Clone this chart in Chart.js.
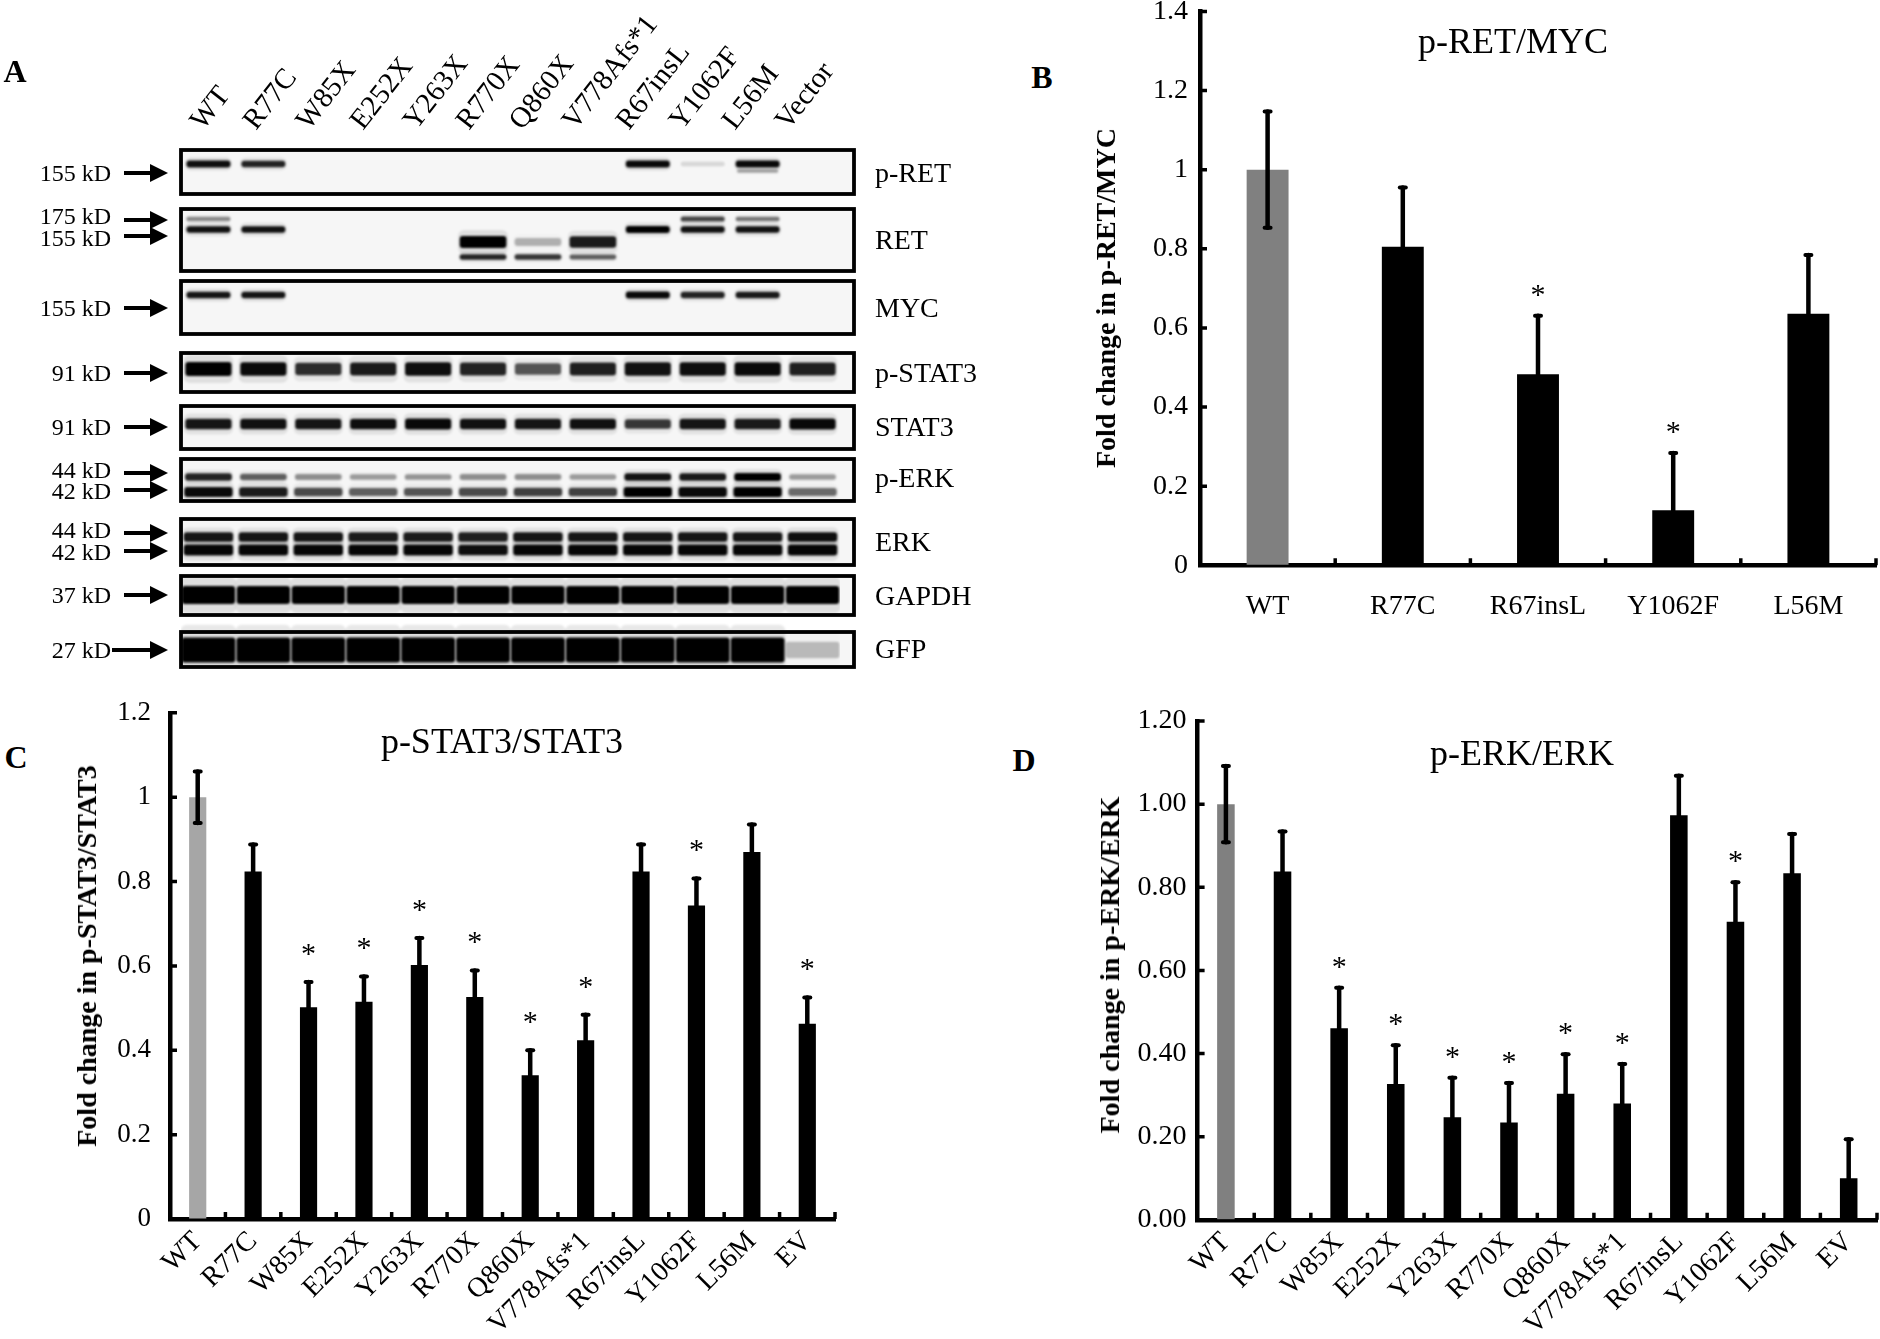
<!DOCTYPE html>
<html><head><meta charset="utf-8">
<script src="https://cdn.jsdelivr.net/npm/chart.js@4.4.1/dist/chart.umd.min.js"></script>
<style>
html,body{margin:0;padding:0;background:#fff;}
#page{position:relative;width:1880px;height:1339px;overflow:hidden;font-family:'Liberation Serif','Times New Roman',serif;color:#000;background:#fff;}
canvas{position:absolute;}
.t{position:absolute;white-space:nowrap;line-height:1;}
</style></head>
<body><div id="page">
<canvas id="blot"></canvas>
<canvas id="cB"></canvas>
<canvas id="cC"></canvas>
<canvas id="cD"></canvas>
</div>
<script>
// ---------- DATA ----------
const blotLanes = ['WT','R77C','W85X','E252X','Y263X','R770X','Q860X','V778Afs*1','R67insL','Y1062F','L56M','Vector'];
// band intensities per lane (0 = no band, 1 = saturated)
const pRET    = [0.92,0.80,0,0,0,0,0,0,0.95,0.06,0.95,0];
const pRETlow = [0,0,0,0,0,0,0,0,0,0,0.22,0];
const RET175  = [0.32,0,0,0,0,0,0,0,0,0.62,0.40,0];
const RET155  = [0.90,0.90,0,0,0,0,0,0,1.00,0.90,0.90,0];
const RETtrunc= [0,0,0,0,0,1.00,0.18,0.85,0,0,0,0];
const RETlow  = [0,0,0,0,0,0.80,0.70,0.50,0,0,0,0];
const MYC     = [0.88,0.88,0,0,0,0,0,0,0.95,0.80,0.85,0];
const pSTAT3  = [1.00,0.95,0.75,0.85,0.92,0.80,0.55,0.82,0.90,0.92,0.95,0.82];
const STAT3   = [0.88,0.90,0.88,0.92,0.95,0.90,0.88,0.90,0.70,0.88,0.85,0.95];
const pERK44  = [0.80,0.50,0.30,0.25,0.28,0.30,0.30,0.25,0.90,0.85,1.00,0.25];
const pERK42  = [0.95,0.85,0.60,0.50,0.55,0.60,0.65,0.65,1.00,0.95,1.00,0.45];
const ERK44   = [0.88,0.88,0.88,0.85,0.85,0.82,0.88,0.88,0.88,0.88,0.88,0.92];
const ERK42   = [0.97,0.97,0.97,0.97,0.97,0.92,0.97,0.97,0.97,0.97,0.97,0.97];
const GAPDH   = [1,1,1,1,1,1,1,1,1,1,1,1];
const GFP     = [1,1,1,1,1,1,1,1,1,1,1,0.15];

const catB  = ['WT','R77C','R67insL','Y1062F','L56M'];
const valB  = [1.00,0.805,0.483,0.139,0.636];
const errB  = [0.147,0.150,0.148,0.145,0.148];
const sigB  = [0,0,1,1,0];
const tickB = ['0','0.2','0.4','0.6','0.8','1','1.2','1.4'];

const catCD = ['WT','R77C','W85X','E252X','Y263X','R770X','Q860X','V778Afs*1','R67insL','Y1062F','L56M','EV'];
const valC  = [1.00,0.824,0.502,0.515,0.602,0.526,0.341,0.424,0.824,0.743,0.870,0.463];
const errC  = [0.061,0.064,0.060,0.060,0.064,0.063,0.059,0.060,0.064,0.064,0.065,0.062];
const sigC  = [0,0,1,1,1,1,1,1,0,1,0,1];
const tickC = ['0','0.2','0.4','0.6','0.8','1','1.2'];

const valD  = [1.00,0.838,0.461,0.327,0.247,0.234,0.303,0.280,0.973,0.717,0.834,0.100];
const errD  = [0.092,0.096,0.097,0.093,0.095,0.095,0.095,0.095,0.095,0.095,0.094,0.094];
const sigD  = [0,0,1,1,1,1,1,1,0,1,0,0];
const tickD = ['0.00','0.20','0.40','0.60','0.80','1.00','1.20'];

// ---------- LAYOUT / STYLE ----------
const F = "'Liberation Serif','Times New Roman',serif";
const page = document.getElementById('page');
function txt(s, x, y, size, o = {}) {
  const d = document.createElement('div');
  d.className = 't';
  d.textContent = s;
  d.style.fontSize = size + 'px';
  if (o.bold) d.style.fontWeight = 'bold';
  d.style.left = x + 'px';
  d.style.top = y + 'px';
  const a = o.anchor || 'center';
  let tr = a === 'center' ? 'translate(-50%,-50%)' : a === 'right' ? 'translate(-100%,-50%)' : 'translate(0,-50%)';
  if (o.vertical) tr = 'translate(-50%,-50%) rotate(-90deg)';
  d.style.transform = tr;
  page.appendChild(d);
  return d;
}

// ---------- PANEL A : blot ----------
const bandRows = [
  {v:pRET,    y:164,   t:7,  bp:0.80},
  {v:pRETlow, y:171,   t:5,  bp:0.75},
  {v:RET175,  y:219,   t:6,  bp:0.80},
  {v:RET155,  y:229.5, t:7,  bp:0.80},
  {v:RETtrunc,y:242,   t:12, bp:0.85},
  {v:RETlow,  y:257,   t:6,  bp:0.85},
  {v:MYC,     y:295,   t:7,  bp:0.80},
  {v:pSTAT3,  y:369,   t:14, bp:0.84},
  {v:STAT3,   y:424,   t:11, bp:0.84},
  {v:pERK44,  y:477,   t:8,  bp:0.85},
  {v:pERK42,  y:492,   t:10, bp:0.88},
  {v:ERK44,   y:537,   t:10, bp:0.90},
  {v:ERK42,   y:550,   t:11, bp:0.90},
  {v:GAPDH,   y:595,   t:18, bp:0.97},
  {v:GFP,     y:650,   t:25, bp:0.98}
];
const boxes = [[150,194],[209,271],[281,334],[353,392],[406,449],[459,501],[519,565],[576,615],[632,667]];
const arrows = [[173,124],[220,124],[236,124],[308,124],[373,124],[427,124],[473,124],[490,124],[533,124],[551,124],[595,124],[650,112]];

const blotPlugin = {
  id: 'blotdeco',
  beforeDatasetsDraw(chart) {
    const {ctx, chartArea: a, scales: {y}} = chart;
    ctx.save();
    ctx.fillStyle = '#f6f6f6';
    boxes.forEach(b => {
      const t = y.getPixelForValue(b[0]), bt = y.getPixelForValue(b[1]);
      ctx.fillRect(a.left, t, a.right + 14 - a.left, bt - t);
    });
    ctx.restore();
    ctx.save();
    ctx.filter = 'blur(1.3px)';
  },
  afterDatasetsDraw(chart) {
    const ctx = chart.ctx;
    ctx.restore();
    const {chartArea: a, scales: {y}} = chart;
    ctx.save();
    ctx.strokeStyle = '#000';
    ctx.lineWidth = 3.8;
    boxes.forEach(b => {
      const t = y.getPixelForValue(b[0]), bt = y.getPixelForValue(b[1]);
      ctx.strokeRect(a.left, t, a.right + 14 - a.left, bt - t);
    });
    ctx.fillStyle = '#000';
    arrows.forEach(([ay, x0]) => {
      const py = y.getPixelForValue(ay);
      const x1 = 168;
      ctx.lineWidth = 4;
      ctx.beginPath(); ctx.moveTo(x0, py); ctx.lineTo(x1 - 12, py); ctx.stroke();
      ctx.beginPath(); ctx.moveTo(x1, py); ctx.lineTo(x1 - 18, py - 9); ctx.lineTo(x1 - 18, py + 9); ctx.closePath(); ctx.fill();
    });
    ctx.restore();
  }
};
function bandDataset(r, halo) {
  return {
    data: r.v.map(v => {
      if (v <= 0) return null;
      const th = r.t * (0.6 + 0.4 * v) * (halo ? 2.0 : 1);
      return [r.y - th / 2, r.y + th / 2];
    }),
    backgroundColor: r.v.map(v => 'rgba(0,0,0,' + (halo ? 0.09 * v : Math.min(1, Math.pow(v, 0.75))) + ')'),
    barPercentage: halo ? Math.min(1, r.bp + 0.06) : r.bp,
    categoryPercentage: 1,
    grouped: false,
    borderWidth: 0,
    borderRadius: halo ? 6 : 3,
    borderSkipped: false,
    order: halo ? 1 : 0
  };
}
const blotCv = document.getElementById('blot');
blotCv.width = 940; blotCv.height = 680; blotCv.style.left = '0px'; blotCv.style.top = '0px';
new Chart(blotCv, {
  type: 'bar',
  data: {
    labels: blotLanes,
    datasets: bandRows.map(r => bandDataset(r, true)).concat(bandRows.map(r => bandDataset(r, false)))
  },
  options: {
    responsive: false, animation: false, devicePixelRatio: 1,
    layout: {padding: {left: 181, right: 100, top: 150, bottom: 13}},
    scales: {
      x: {display: false},
      y: {display: false, min: 150, max: 667, reverse: true}
    },
    plugins: {legend: {display: false}, tooltip: {enabled: false}}
  },
  plugins: [blotPlugin]
});

// blot texts
txt('A', 15, 71, 32, {bold: true});
blotLanes.forEach((s, i) => {
  const d = document.createElement('div');
  d.className = 't';
  d.textContent = s;
  d.style.fontSize = '29px';
  d.style.left = (207 + 53.2 * i) + 'px';
  d.style.top = (134 - 29) + 'px';
  d.style.transformOrigin = '0 100%';
  d.style.transform = 'rotate(-52deg)';
  page.appendChild(d);
});
const kdLabels = [['155 kD',173],['175 kD',216],['155 kD',238],['155 kD',308],['91 kD',373],['91 kD',427],['44 kD',470],['42 kD',491],['44 kD',530],['42 kD',552],['37 kD',595],['27 kD',650]];
kdLabels.forEach(([s, y]) => txt(s, 111, y, 24, {anchor: 'right'}));
const protLabels = [['p-RET',173],['RET',240],['MYC',308],['p-STAT3',373],['STAT3',427],['p-ERK',478],['ERK',542],['GAPDH',596],['GFP',649]];
protLabels.forEach(([s, y]) => txt(s, 875, y, 28, {anchor: 'left'}));

// ---------- BAR CHARTS ----------
const errPlugin = {
  id: 'errbars',
  afterDatasetsDraw(chart, args, o) {
    const c = chart.ctx, y = chart.scales.y, meta = chart.getDatasetMeta(0);
    const vals = chart.data.datasets[0].data;
    c.save();
    c.strokeStyle = '#000'; c.fillStyle = '#000'; c.lineCap = 'round';
    meta.data.forEach((bar, i) => {
      const v = vals[i], e = o.errs[i];
      const top = y.getPixelForValue(v + e);
      const both = i === 0;
      const bot = both ? y.getPixelForValue(v - e) : bar.y;
      c.lineWidth = 4.5;
      c.beginPath(); c.moveTo(bar.x, bot); c.lineTo(bar.x, top); c.stroke();
      c.lineWidth = 4;
      c.beginPath(); c.moveTo(bar.x - 3, top); c.lineTo(bar.x + 3, top);
      if (both) { c.moveTo(bar.x - 3, bot); c.lineTo(bar.x + 3, bot); }
      c.stroke();
      if (o.sig[i]) {
        c.font = '30px ' + F;
        c.textAlign = 'center'; c.textBaseline = 'middle';
        c.fillText('*', bar.x, top - o.starOff + 4);
      }
    });
    c.restore();
  }
};
const tickPlugin = {
  id: 'inticks',
  afterDraw(chart) {
    const c = chart.ctx, a = chart.chartArea, x = chart.scales.x, y = chart.scales.y;
    c.save();
    c.strokeStyle = '#000'; c.lineWidth = 3.5;
    c.beginPath();
    y.ticks.forEach(t => {
      const py = y.getPixelForValue(t.value);
      c.moveTo(a.left, py); c.lineTo(a.left + 7, py);
    });
    const n = chart.data.labels.length;
    const w = x.getPixelForValue(1) - x.getPixelForValue(0);
    for (let i = 1; i <= n; i++) {
      const px = x.getPixelForValue(i - 1) + w / 2;
      c.moveTo(px, a.bottom); c.lineTo(px, a.bottom - 7);
    }
    c.stroke();
    c.restore();
  }
};

function barChart(id, g, cats, vals, errs, sig, ticks, yMax, wtColor) {
  const cv = document.getElementById(id);
  cv.width = g.w; cv.height = g.h;
  cv.style.left = g.left + 'px'; cv.style.top = g.top + 'px';
  const gridOpt = {display: true, drawOnChartArea: false, drawTicks: false, color: 'rgba(0,0,0,0)'};
  const borderOpt = {display: true, color: '#000', width: 4.5};
  return new Chart(cv, {
    type: 'bar',
    data: {labels: cats, datasets: [{
      data: vals,
      backgroundColor: vals.map((v, i) => i === 0 ? wtColor : '#000'),
      barPercentage: 0.31, categoryPercentage: 1, borderWidth: 0
    }]},
    options: {
      responsive: false, animation: false, devicePixelRatio: 1,
      layout: {padding: {left: 0, right: g.padR, top: g.padT, bottom: 0}},
      plugins: {legend: {display: false}, tooltip: {enabled: false},
        errbars: {errs: errs, sig: sig, starOff: g.starOff}},
      scales: {
        x: {
          z: 1, grid: gridOpt, border: borderOpt,
          ticks: {color: '#000', font: {family: F, size: 28}, padding: g.xPad,
                  minRotation: g.rot, maxRotation: g.rot, autoSkip: false},
          afterFit(s) { s.height = g.xH; s.paddingLeft = 0; s.paddingRight = 0; }
        },
        y: {
          z: 1, min: 0, max: yMax, grid: gridOpt, border: borderOpt,
          ticks: {stepSize: 0.2, color: '#000', font: {family: F, size: g.yFont}, padding: g.yPad,
                  callback: (v) => ticks[Math.round(v / 0.2)]},
          afterFit(s) { s.width = g.yW; s.paddingTop = 0; s.paddingBottom = 0; }
        }
      }
    },
    plugins: [errPlugin, tickPlugin]
  });
}

barChart('cB', {left: 1120, top: 0, w: 760, h: 650, yW: 80, padT: 11.4, padR: 4, xH: 84.7,
  yPad: 12, xPad: 25, rot: 0, yFont: 28, starOff: 24}, catB, valB, errB, sigB, tickB, 1.4, '#808080');
barChart('cC', {left: 100, top: 690, w: 760, h: 649, yW: 70, padT: 22.8, padR: 25, xH: 120,
  yPad: 19, xPad: 6, rot: 45, yFont: 27, starOff: 31}, catCD, valC, errC, sigC, tickC, 1.2, '#a6a6a6');
barChart('cD', {left: 1110, top: 690, w: 770, h: 649, yW: 87.6, padT: 31, padR: 3, xH: 119.2,
  yPad: 11, xPad: 6, rot: 45, yFont: 28, starOff: 24}, catCD, valD, errD, sigD, tickD, 1.2, '#808080');

// panel letters, titles, axis titles
txt('B', 1042, 77, 32, {bold: true});
txt('C', 16, 757, 32, {bold: true});
txt('D', 1024, 760, 32, {bold: true});
txt('p-RET/MYC', 1513, 41, 36);
txt('p-STAT3/STAT3', 502, 741, 36);
txt('p-ERK/ERK', 1522, 753, 36);
txt('Fold change in p-RET/MYC', 1106, 298, 28, {bold: true, vertical: true});
txt('Fold change in p-STAT3/STAT3', 87, 956, 28, {bold: true, vertical: true});
txt('Fold change in p-ERK/ERK', 1110, 965, 28, {bold: true, vertical: true});
</script>
</body></html>
